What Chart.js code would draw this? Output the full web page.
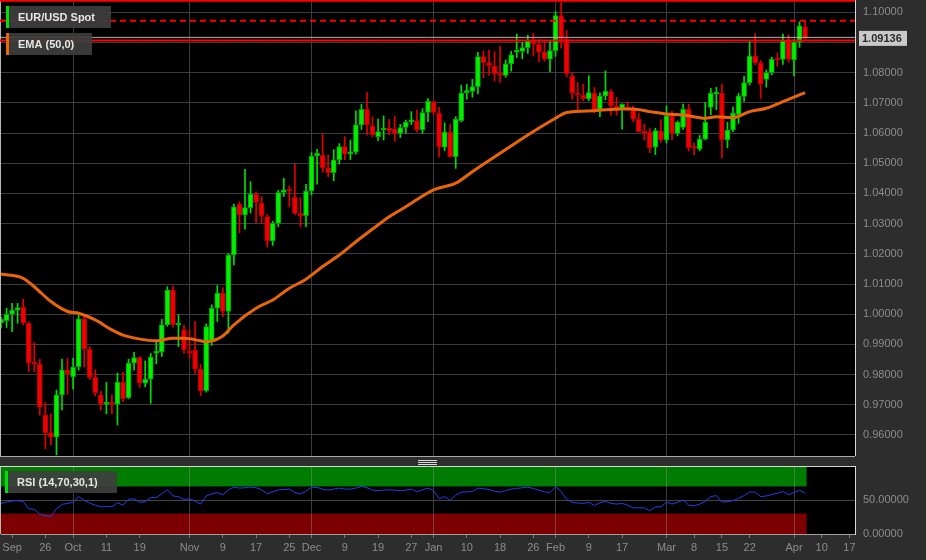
<!DOCTYPE html>
<html>
<head>
<meta charset="utf-8">
<script src="https://cdn.jsdelivr.net/npm/chart.js@4.4.0/dist/chart.umd.min.js"></script>
<style>
body { margin: 0; background: #2d2d2d; width: 926px; height: 560px; overflow: hidden; position: relative; }
canvas { position: absolute; left: 0; }
#main { top: 0; }
#rsi { top: 456px; }
</style>
</head>
<body>
<canvas id="main" width="926" height="456"></canvas>
<canvas id="rsi" width="926" height="104"></canvas>
<script>
// daily EUR/USD candles, Sep 14 2022 .. Apr 5 2023 (10 per row)
var opens = [
	0.9971, 0.9979, 1.0000, 1.0013, 1.0023, 0.9970, 0.9838, 0.9835, 0.9667, 0.9608,
	0.9593, 0.9733, 0.9816, 0.9793, 0.9826, 0.9985, 0.9884, 0.9791, 0.9733, 0.9702,
	0.9707, 0.9702, 0.9774, 0.9724, 0.9838, 0.9856, 0.9772, 0.9785, 0.9871, 0.9874,
	0.9965, 1.0080, 0.9964, 0.9948, 0.9874, 0.9880, 0.9818, 0.9747, 0.9909, 1.0020,
	1.0070, 1.0009, 1.0196, 1.0365, 1.0329, 1.0353, 1.0398, 1.0368, 1.0323, 1.0243,
	1.0301, 1.0403, 1.0412, 1.0387, 1.0334, 1.0326, 1.0408, 1.0524, 1.0527, 1.0485,
	1.0469, 1.0511, 1.0555, 1.0531, 1.0537, 1.0627, 1.0679, 1.0624, 1.0588, 1.0610,
	1.0616, 1.0613, 1.0599, 1.0619, 1.0637, 1.0641, 1.0610, 1.0668, 1.0704, 1.0665,
	1.0553, 1.0603, 1.0522, 1.0641, 1.0734, 1.0738, 1.0754, 1.0853, 1.0833, 1.0822,
	1.0796, 1.0791, 1.0829, 1.0868, 1.0870, 1.0883, 1.0905, 1.0894, 1.0868, 1.0845,
	1.0873, 1.0989, 1.0911, 1.0789, 1.0731, 1.0726, 1.0713, 1.0732, 1.0679, 1.0723,
	1.0737, 1.0690, 1.0682, 1.0685, 1.0680, 1.0646, 1.0604, 1.0604, 1.0553, 1.0607,
	1.0577, 1.0657, 1.0599, 1.0619, 1.0679, 1.0553, 1.0547, 1.0580, 1.0685, 1.0729,
	1.0732, 1.0577, 1.0610, 1.0662, 1.0721, 1.0767, 1.0855, 1.0833, 1.0778, 1.0800,
	1.0844, 1.0844, 1.0906, 1.0842, 1.0901, 1.0952
];
var highs = [
	0.9990, 1.0020, 1.0036, 1.0036, 1.0050, 0.9975, 0.9906, 0.9851, 0.9707, 0.9670,
	0.9749, 0.9851, 0.9854, 0.9854, 0.9998, 0.9995, 0.9893, 0.9816, 0.9745, 0.9774,
	0.9733, 0.9805, 0.9808, 0.9851, 0.9874, 0.9860, 0.9845, 0.9870, 0.9912, 0.9983,
	1.0091, 1.0093, 0.9998, 0.9964, 0.9950, 0.9976, 0.9833, 0.9968, 1.0031, 1.0095,
	1.0088, 1.0200, 1.0365, 1.0372, 1.0480, 1.0439, 1.0405, 1.0390, 1.0330, 1.0308,
	1.0410, 1.0450, 1.0425, 1.0497, 1.0386, 1.0430, 1.0535, 1.0546, 1.0596, 1.0527,
	1.0545, 1.0565, 1.0588, 1.0577, 1.0674, 1.0695, 1.0735, 1.0653, 1.0646, 1.0657,
	1.0645, 1.0656, 1.0629, 1.0643, 1.0671, 1.0676, 1.0681, 1.0714, 1.0706, 1.0685,
	1.0634, 1.0630, 1.0654, 1.0759, 1.0761, 1.0778, 1.0867, 1.0872, 1.0875, 1.0870,
	1.0888, 1.0842, 1.0870, 1.0928, 1.0900, 1.0924, 1.0930, 1.0910, 1.0905, 1.0905,
	1.1002, 1.1032, 1.0940, 1.0800, 1.0767, 1.0762, 1.0790, 1.0751, 1.0733, 1.0806,
	1.0744, 1.0718, 1.0697, 1.0703, 1.0690, 1.0665, 1.0630, 1.0615, 1.0616, 1.0645,
	1.0690, 1.0673, 1.0640, 1.0696, 1.0696, 1.0567, 1.0592, 1.0701, 1.0748, 1.0751,
	1.0762, 1.0636, 1.0686, 1.0731, 1.0789, 1.0906, 1.0930, 1.0840, 1.0809, 1.0851,
	1.0866, 1.0928, 1.0926, 1.0910, 1.0969, 1.0969
];
var lows = [
	0.9955, 0.9956, 0.9942, 0.9970, 0.9965, 0.9810, 0.9810, 0.9666, 0.9554, 0.9567,
	0.9534, 0.9683, 0.9735, 0.9752, 0.9815, 0.9825, 0.9783, 0.9729, 0.9683, 0.9670,
	0.9670, 0.9633, 0.9710, 0.9720, 0.9815, 0.9758, 0.9760, 0.9705, 0.9836, 0.9860,
	0.9960, 0.9957, 0.9893, 0.9870, 0.9854, 0.9805, 0.9730, 0.9742, 0.9897, 0.9976,
	0.9992, 0.9937, 1.0163, 1.0270, 1.0282, 1.0335, 1.0303, 1.0300, 1.0222, 1.0228,
	1.0290, 1.0390, 1.0356, 1.0330, 1.0290, 1.0290, 1.0395, 1.0431, 1.0470, 1.0455,
	1.0442, 1.0497, 1.0512, 1.0512, 1.0530, 1.0612, 1.0594, 1.0587, 1.0575, 1.0577,
	1.0595, 1.0573, 1.0585, 1.0599, 1.0628, 1.0604, 1.0599, 1.0638, 1.0660, 1.0520,
	1.0542, 1.0520, 1.0483, 1.0637, 1.0712, 1.0719, 1.0730, 1.0783, 1.0791, 1.0772,
	1.0768, 1.0785, 1.0805, 1.0850, 1.0846, 1.0864, 1.0855, 1.0836, 1.0838, 1.0803,
	1.0854, 1.0881, 1.0787, 1.0712, 1.0677, 1.0707, 1.0707, 1.0667, 1.0654, 1.0710,
	1.0659, 1.0659, 1.0613, 1.0677, 1.0637, 1.0603, 1.0577, 1.0535, 1.0529, 1.0569,
	1.0567, 1.0577, 1.0591, 1.0612, 1.0540, 1.0528, 1.0541, 1.0578, 1.0661, 1.0677,
	1.0517, 1.0551, 1.0605, 1.0632, 1.0705, 1.0759, 1.0826, 1.0715, 1.0752, 1.0793,
	1.0821, 1.0827, 1.0835, 1.0789, 1.0884, 1.0911
];
var closes = [
	0.9984, 1.0000, 1.0014, 1.0022, 0.9970, 0.9838, 0.9836, 0.9692, 0.9608, 0.9593,
	0.9733, 0.9816, 0.9802, 0.9825, 0.9985, 0.9884, 0.9791, 0.9740, 0.9702, 0.9707,
	0.9702, 0.9775, 0.9720, 0.9838, 0.9856, 0.9772, 0.9785, 0.9858, 0.9876, 0.9965,
	1.0080, 0.9965, 0.9967, 0.9882, 0.9871, 0.9818, 0.9747, 0.9959, 1.0020, 1.0070,
	1.0009, 1.0196, 1.0356, 1.0329, 1.0353, 1.0398, 1.0370, 1.0326, 1.0243, 1.0301,
	1.0403, 1.0412, 1.0408, 1.0334, 1.0326, 1.0408, 1.0524, 1.0533, 1.0485, 1.0469,
	1.0511, 1.0555, 1.0531, 1.0537, 1.0627, 1.0679, 1.0627, 1.0594, 1.0605, 1.0616,
	1.0608, 1.0599, 1.0618, 1.0636, 1.0641, 1.0610, 1.0668, 1.0706, 1.0668, 1.0553,
	1.0603, 1.0522, 1.0646, 1.0732, 1.0738, 1.0754, 1.0853, 1.0833, 1.0822, 1.0796,
	1.0791, 1.0829, 1.0859, 1.0871, 1.0883, 1.0905, 1.0894, 1.0868, 1.0845, 1.0873,
	1.0989, 1.0911, 1.0796, 1.0732, 1.0726, 1.0714, 1.0734, 1.0677, 1.0723, 1.0739,
	1.0690, 1.0682, 1.0695, 1.0680, 1.0646, 1.0605, 1.0599, 1.0550, 1.0608, 1.0577,
	1.0657, 1.0599, 1.0636, 1.0679, 1.0552, 1.0550, 1.0580, 1.0636, 1.0732, 1.0734,
	1.0577, 1.0610, 1.0666, 1.0723, 1.0767, 1.0855, 1.0833, 1.0762, 1.0800, 1.0844,
	1.0842, 1.0906, 1.0844, 1.0901, 1.0955, 1.0914
];

// EMA(50,0): candle position -> value
var emaAt = [0, 4, 6, 9, 12, 14, 17, 20, 22, 26, 28, 31, 33, 36, 37, 40, 42, 46, 49, 52,
	55, 58, 61, 64, 67, 70, 73, 78, 82, 85, 90, 96, 100, 102, 107, 112, 114, 117, 120, 123,
	127, 129, 132, 135, 138, 141, 145];
var emaVal = [1.0133, 1.0119, 1.0091, 1.0042, 1.0009, 1.0003, 0.9981, 0.9948, 0.9931, 0.9915,
	0.9912, 0.9920, 0.9920, 0.9912, 0.9909, 0.9928, 0.9965, 1.0020, 1.0047, 1.0086,
	1.0116, 1.0158, 1.0196, 1.0240, 1.0282, 1.0323, 1.0356, 1.0412, 1.0434, 1.0472,
	1.0533, 1.0605, 1.0649, 1.0668, 1.0674, 1.0680, 1.0680, 1.0671, 1.0663, 1.0660,
	1.0649, 1.0654, 1.0651, 1.0671, 1.0682, 1.0704, 1.0734];

// RSI(14), one value per candle
var rsi = [
	45, 47, 48.5, 49, 48, 37, 36.5, 29, 27, 25.5,
	37, 43.5, 45, 46.5, 55, 49.5, 45.5, 42.5, 40, 40.5,
	40, 46, 42.5, 51, 52, 46.5, 47.5, 53.5, 53.5, 59,
	65, 56, 55, 51, 51.5, 48.5, 44, 56, 59, 61,
	57.5, 65, 69, 67.5, 68, 69, 68, 65, 59, 62,
	65, 65.5, 66, 61, 59, 63, 69, 68.5, 66, 64.5,
	66, 67.5, 66, 66, 67.5, 70, 68, 64.5, 64, 64.5,
	65, 64.5, 63.5, 64.5, 66, 62, 65, 67.5, 64, 52,
	55, 49.5, 57, 61.5, 62, 62.5, 67.5, 66.5, 65.5, 63,
	61.5, 64, 66, 67, 68, 69, 67, 64.5, 62, 61,
	69.5, 62.5, 51, 46.5, 45.5, 45, 46.5, 42, 46, 48,
	45, 44, 45, 42.5, 38.5, 38.5, 38.5, 34, 40, 40,
	47, 44, 46.5, 50, 42.5, 41.5, 44, 48, 55, 56.5,
	47, 47.5, 49, 52.5, 56.5, 62, 61.5, 55, 56, 58,
	60, 62.5, 57.5, 61, 64.5, 60
];
var rsiUpper = 70, rsiLower = 30;

var lastPrice = 1.09136;
var dayHigh = 1.0972;
var dayLow = 1.0908;
var rangeHigh = 1.1038;

var tickDays = ['2022-09-16', '2022-09-26', '2022-10-03', '2022-10-11', '2022-10-19', '2022-11-01',
	'2022-11-09', '2022-11-17', '2022-11-25', '2022-12-01', '2022-12-09', '2022-12-19', '2022-12-27',
	'2023-01-02', '2023-01-10', '2023-01-18', '2023-01-26', '2023-02-01', '2023-02-09', '2023-02-17',
	'2023-03-01', '2023-03-08', '2023-03-15', '2023-03-22', '2023-04-03', '2023-04-10', '2023-04-17'];
var tickText = ['Sep', '26', 'Oct', '11', '19', 'Nov', '9', '17', '25', 'Dec', '9', '19', '27',
	'Jan', '10', '18', '26', 'Feb', '9', '17', 'Mar', '8', '15', '22', 'Apr', '10', '17'];
var monthDays = ['2022-10-03', '2022-11-01', '2022-12-01', '2023-01-02', '2023-02-01', '2023-03-01', '2023-04-03'];

// trading days (weekdays) shown on the axis, incl. empty slots after the last candle
var days = [];
var d = new Date(Date.UTC(2022, 8, 14));
while (days.length < 155) {
	var wd = d.getUTCDay();
	if (wd != 0 && wd != 6) days.push(d.toISOString().slice(0, 10));
	d.setUTCDate(d.getUTCDate() + 1);
}

Chart.defaults.font.family = '"Liberation Sans", Arial, sans-serif';
Chart.defaults.font.size = 11;
Chart.defaults.animation = false;

var wickData = [], bodyData = [], fillCol = [], edgeCol = [], wickCol = [];
for (var i = 0; i < closes.length; i++) {
	wickData.push([lows[i], highs[i]]);
	bodyData.push([opens[i], closes[i]]);
	var up = closes[i] >= opens[i];
	fillCol.push(up ? '#00f000' : '#f00000');
	edgeCol.push(up ? '#00a400' : '#b00000');
	wickCol.push(up ? '#00dd00' : '#e00000');
}
var emaData = [];
for (var k = 0; k < emaAt.length; k++) emaData.push({ x: days[emaAt[k]], y: emaVal[k] });

// keep the plot area exactly where the reference has it
function fixWidth(s) {
	s.width = 71;
	s.paddingTop = 0; s.paddingBottom = 0; s.paddingLeft = 0; s.paddingRight = 0;
}
function fixHeight(h) {
	return function(s) {
		s.height = h;
		s.paddingTop = 0; s.paddingBottom = 0; s.paddingLeft = 0; s.paddingRight = 0;
	};
}

function tagBox(ctx, x, y, w, h, barColor, text) {
	ctx.save();
	ctx.fillStyle = 'rgba(62,62,62,0.92)';
	ctx.fillRect(x, y, w, h);
	ctx.fillStyle = barColor;
	ctx.fillRect(x, y, 3, h);
	ctx.fillStyle = '#e6e6e6';
	ctx.font = 'bold 11px "Liberation Sans", Arial, sans-serif';
	ctx.textBaseline = 'middle';
	ctx.fillText(text, x + 12, y + h / 2 + 0.5);
	ctx.restore();
}

function hLine(ctx, area, yPix, color, width, dash) {
	ctx.save();
	ctx.strokeStyle = color;
	ctx.lineWidth = width;
	ctx.setLineDash(dash || []);
	ctx.beginPath();
	ctx.moveTo(area.left - 1, yPix);
	ctx.lineTo(area.right, yPix);
	ctx.stroke();
	ctx.restore();
}

var mainDeco = {
	id: 'mainDeco',
	beforeDraw: function(chart) {
		var ctx = chart.ctx, a = chart.chartArea;
		ctx.save();
		ctx.fillStyle = '#2d2d2d';
		ctx.fillRect(0, 0, chart.width, chart.height);
		ctx.fillStyle = '#000';
		ctx.fillRect(a.left, a.top, a.right - a.left, a.bottom - a.top);
		ctx.fillStyle = '#b8b8b8';
		ctx.fillRect(0, 0, 1, a.bottom);
		ctx.restore();
	},
	afterDatasetsDraw: function(chart) {
		var ctx = chart.ctx, a = chart.chartArea, y = chart.scales.y;
		hLine(ctx, a, y.getPixelForValue(rangeHigh), '#ff0000', 2);
		hLine(ctx, a, y.getPixelForValue(dayHigh), '#ff0000', 2, [6, 4]);
		hLine(ctx, a, y.getPixelForValue(lastPrice) - 1, '#b0b0b0', 1);
		hLine(ctx, a, y.getPixelForValue(dayLow) + 0.5, '#ff0000', 2);
	},
	afterDraw: function(chart) {
		var ctx = chart.ctx, y = chart.scales.y;
		tagBox(ctx, 6, 6, 105, 22, '#00e000', 'EUR/USD Spot');
		tagBox(ctx, 6, 33, 86, 22, '#e8650a', 'EMA (50,0)');
		var py = y.getPixelForValue(lastPrice);
		ctx.save();
		ctx.fillStyle = '#c9c9c9';
		ctx.fillRect(859, py - 7.5, 48, 15);
		ctx.fillStyle = '#2a2a2a';
		ctx.font = 'bold 11px "Liberation Sans", Arial, sans-serif';
		ctx.textBaseline = 'middle';
		ctx.fillText(lastPrice.toFixed(5), 862, py + 0.5);
		ctx.restore();
	}
};

new Chart(document.getElementById('main'), {
	type: 'bar',
	data: {
		labels: days,
		datasets: [{
			data: emaData,
			type: 'line',
			borderColor: '#e8650a',
			borderWidth: 3,
			pointRadius: 0,
			cubicInterpolationMode: 'monotone',
			order: 0
		}, {
			data: bodyData,
			backgroundColor: fillCol,
			borderColor: edgeCol,
			borderWidth: 1,
			borderSkipped: false,
			barThickness: 5,
			minBarLength: 2,
			grouped: false,
			order: 1
		}, {
			data: wickData,
			backgroundColor: wickCol,
			barThickness: 1,
			grouped: false,
			order: 2
		}]
	},
	options: {
		responsive: false,
		events: [],
		layout: { padding: { left: 1, top: 0, right: 0, bottom: 0 } },
		plugins: { legend: { display: false }, tooltip: { enabled: false } },
		scales: {
			x: {
				type: 'category',
				offset: false,
				ticks: { display: false, autoSkip: false },
				grid: {
					offset: false,
					drawTicks: false,
					color: function(c) {
						return monthDays.indexOf(days[c.index]) >= 0 ? '#3c3c3c' : 'rgba(0,0,0,0)';
					}
				},
				border: { display: true, color: '#9a9a9a' },
				afterFit: fixHeight(0)
			},
			y: {
				position: 'right',
				min: 0.95304,
				max: 1.10407,
				ticks: {
					stepSize: 0.01,
					includeBounds: false,
					color: '#8c8c8c',
					padding: 8,
					callback: function(v) {
						if (Math.abs(v - lastPrice) < 0.003) return '';
						return v.toFixed(5);
					}
				},
				grid: { color: '#3c3c3c', drawTicks: false },
				border: { color: '#d8d8d8' },
				afterFit: fixWidth
			}
		}
	},
	plugins: [mainDeco]
});

var rsiDeco = {
	id: 'rsiDeco',
	beforeDraw: function(chart) {
		var ctx = chart.ctx, a = chart.chartArea, x = chart.scales.x, y = chart.scales.y;
		ctx.save();
		ctx.fillStyle = '#2d2d2d';
		ctx.fillRect(0, 0, chart.width, chart.height);
		ctx.fillStyle = '#000';
		ctx.fillRect(a.left, a.top, a.right - a.left, a.bottom - a.top);
		var xr = x.getPixelForValue(rsi.length - 1) + 1.5;
		ctx.fillStyle = '#007c00';
		ctx.fillRect(a.left, y.getPixelForValue(100) + 1, xr - a.left, y.getPixelForValue(rsiUpper) - y.getPixelForValue(100) - 1);
		ctx.fillStyle = '#7c0000';
		ctx.fillRect(a.left, y.getPixelForValue(rsiLower), xr - a.left, y.getPixelForValue(0) - y.getPixelForValue(rsiLower));
		// splitter strip between the panes
		ctx.fillStyle = '#a8a8a8';
		ctx.fillRect(0, 0, a.right, 1);
		ctx.fillStyle = '#dcdcdc';
		for (var j = 0; j < 3; j++) ctx.fillRect(418, 4 + j * 2, 19, 1);
		ctx.fillStyle = '#b8b8b8';
		ctx.fillRect(0, a.top, 1, a.bottom - a.top);
		ctx.restore();
	},
	afterDraw: function(chart) {
		var ctx = chart.ctx, a = chart.chartArea;
		ctx.save();
		ctx.strokeStyle = '#d8d8d8';
		ctx.lineWidth = 1;
		ctx.beginPath();
		ctx.moveTo(0, a.top + 0.5);
		ctx.lineTo(a.right, a.top + 0.5);
		ctx.stroke();
		ctx.restore();
		tagBox(ctx, 5, 15, 112, 22, '#00e000', 'RSI (14,70,30,1)');
	}
};

new Chart(document.getElementById('rsi'), {
	type: 'line',
	data: {
		labels: days,
		datasets: [{
			data: rsi,
			borderColor: '#2040e8',
			borderWidth: 1,
			pointRadius: 0,
			tension: 0
		}]
	},
	options: {
		responsive: false,
		events: [],
		layout: { padding: { left: 1, top: 10, right: 0, bottom: 0 } },
		plugins: { legend: { display: false }, tooltip: { enabled: false } },
		scales: {
			x: {
				type: 'category',
				offset: false,
				ticks: {
					autoSkip: false,
					maxRotation: 0,
					color: '#8c8c8c',
					padding: 3,
					callback: function(v, i) {
						var k = tickDays.indexOf(days[i]);
						return k < 0 ? '' : tickText[k];
					}
				},
				grid: {
					offset: false,
					tickLength: 4,
					color: function(c) {
						return monthDays.indexOf(days[c.index]) >= 0 ? 'rgba(150,150,150,0.4)' : 'rgba(0,0,0,0)';
					},
					tickColor: function(c) {
						return tickDays.indexOf(days[c.index]) >= 0 ? '#777' : 'rgba(0,0,0,0)';
					}
				},
				border: { color: '#a0a0a0' },
				afterFit: fixHeight(26)
			},
			y: {
				position: 'right',
				min: 0,
				max: 100,
				ticks: {
					stepSize: 50,
					color: '#8c8c8c',
					padding: 8,
					callback: function(v) { return v == 100 ? '' : v.toFixed(5); }
				},
				grid: {
					drawTicks: false,
					color: function(c) { return c.tick && c.tick.value == 50 ? '#444' : 'rgba(0,0,0,0)'; }
				},
				border: { color: '#d8d8d8' },
				afterFit: fixWidth
			}
		}
	},
	plugins: [rsiDeco]
});
</script>
</body>
</html>
